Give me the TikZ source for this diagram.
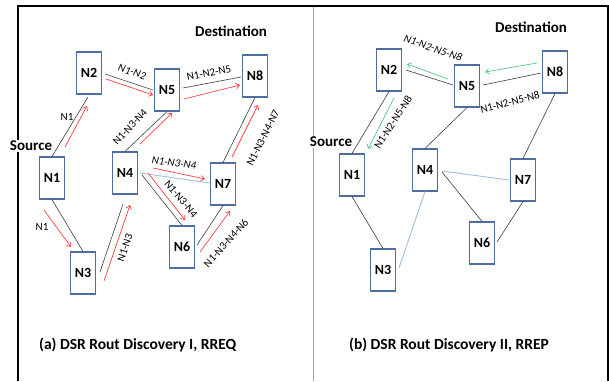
\documentclass[tikz,border=0pt]{standalone}
\usepackage{fontspec}
\setmainfont{Carlito}
\usetikzlibrary{arrows.meta}
\definecolor{boxblue}{RGB}{79,110,160}
\definecolor{reqred}{RGB}{255,60,60}
\definecolor{repgreen}{RGB}{80,200,130}
\definecolor{linkblue}{RGB}{160,190,225}
\definecolor{linkgray}{RGB}{60,60,60}
\definecolor{divgray}{RGB}{165,165,165}
\tikzset{
  nodebox/.style={draw=boxblue, line width=1.6pt, fill=white, minimum width=25pt,
    minimum height=41.5pt, inner sep=0pt, font=\bfseries\fontsize{14}{14}\selectfont},
  link/.style={draw=linkgray, line width=0.6pt},
  weaklink/.style={draw=linkblue, line width=0.9pt},
  tip/.style={-{Straight Barb[length=3.5pt,width=5.5pt]}},
  rreq/.style={draw=reqred, line width=0.7pt, tip},
  rrep/.style={draw=repgreen, line width=0.7pt, tip},
  route/.style={inner sep=0pt, font=\fontsize{11}{11}\selectfont},
  iroute/.style={route, font=\itshape\fontsize{11}{11}\selectfont},
  role/.style={inner sep=1pt, fill=white, font=\bfseries\fontsize{15}{15}\selectfont},
  caption/.style={inner sep=0pt, anchor=west, font=\bfseries\fontsize{15.5}{15.5}\selectfont}
}
\begin{document}
\begin{tikzpicture}[x=1pt,y=-1pt]
\useasboundingbox (0,0) rectangle (609,381);
% frame and divider
\coordinate (tl) at (18,6);
\coordinate (tr) at (608,6);
\coordinate (bl) at (18,381);
\coordinate (br) at (608,381);
\coordinate (dt) at (313.5,7);
\coordinate (db) at (313.5,381);
\draw[divgray, line width=1.8pt] (dt) -- (db);
\draw[black, line width=2pt] (bl) -- (tl) -- (tr) -- (br);

% ---------- (a) route request ----------
\node[nodebox] (a1) at (52,178) {N1};
\node[nodebox] (a2) at (89,73) {N2};
\node[nodebox] (a3) at (83,273) {N3};
\node[nodebox] (a4) at (125,173) {N4};
\node[nodebox] (a5) at (167,90) {N5};
\node[nodebox] (a6) at (182,247) {N6};
\node[nodebox] (a7) at (223,184) {N7};
\node[nodebox] (a8) at (255,76) {N8};

\node[role] (asrc) at (31,146) {Source};
\node[role] (adst) at (231,31) {Destination};

% links
\draw[link] (a1.north) -- ([shift={(-1,24)}]a2.center);
\draw[link] ([shift={(16,1)}]a2.center) -- ([shift={(-14,0)}]a5.center);
\draw[link] ([shift={(16,-2)}]a5.center) -- ([shift={(-14,1)}]a8.center);
\draw[link] (a4.north) -- (a5.south);
\draw[link] (a7.north) -- (a8.south);
\draw[weaklink] ([shift={(15,0)}]a4.center) -- ([shift={(-13,-1)}]a7.center);
\draw[link] ([shift={(17,2)}]a4.center) -- (a6.north);
\draw[link] ([shift={(15,-2)}]a6.center) -- (a7.south);
\draw[link] (a1.south) -- (a3.north);
\draw[link] ([shift={(17,-1)}]a3.center) -- ([shift={(-2,31)}]a4.center);

% request propagation
\draw[rreq] ([shift={(13,-31)}]a1.center) -- ([shift={(-2,33)}]a2.center);
\draw[rreq] ([shift={(17,6)}]a2.center) -- ([shift={(-14,5)}]a5.center);
\draw[rreq] ([shift={(17,9)}]a5.center) -- ([shift={(-15,9)}]a8.center);
\draw[rreq] ([shift={(15,-29)}]a4.center) -- ([shift={(5,23)}]a5.center);
\draw[rreq] ([shift={(9,-27)}]a7.center) -- ([shift={(3,29)}]a8.center);
\draw[rreq] ([shift={(28,-5)}]a4.center) -- ([shift={(-18,-5)}]a7.center);
\draw[rreq] ([shift={(23,0)}]a4.center) -- ([shift={(3,-27)}]a6.center);
\draw[rreq] ([shift={(18,5)}]a6.center) -- ([shift={(7,27)}]a7.center);
\draw[rreq] ([shift={(-8,32)}]a1.center) -- ([shift={(-12,-26)}]a3.center);
\draw[rreq] ([shift={(21,8)}]a3.center) -- ([shift={(5,32)}]a4.center);

% route records
\node[route] (ra1) at (67,117) {N1};
\node[iroute, rotate=-18] (ra2) at (132,72) {N1-N2};
\node[route, rotate=11] (ra3) at (209,73) {N1-N2-N5};
\node[route, rotate=47] (ra4) at (130,127) {N1-N3-N4};
\node[route, rotate=63] (ra5) at (263,138) {N1-N3-N4-N7};
\node[iroute, rotate=-8] (ra6) at (174,163) {N1-N3-N4};
\node[route, rotate=-50] (ra7) at (181,199) {N1-N3-N4};
\node[route, rotate=48] (ra8) at (226,243) {N1-N3-N4-N6};
\node[route] (ra9) at (42,227) {N1};
\node[route, rotate=72] (ra10) at (125,248) {N1-N3};

\node[caption] (capa) at (39,345) {(a) DSR Rout Discovery I, RREQ};

% ---------- (b) route reply ----------
\node[nodebox] (b1) at (352,175) {N1};
\node[nodebox] (b2) at (389,70) {N2};
\node[nodebox] (b3) at (383,270) {N3};
\node[nodebox] (b4) at (425,170) {N4};
\node[nodebox] (b5) at (467,86) {N5};
\node[nodebox] (b6) at (482,243) {N6};
\node[nodebox] (b7) at (523,180) {N7};
\node[nodebox] (b8) at (555,72) {N8};

\node[role] (bsrc) at (331,142) {Source};
\node[role] (bdst) at (531,27) {Destination};

% links
\draw[link] ([shift={(17,0)}]b2.center) -- ([shift={(-14,-1)}]b5.center);
\draw[link] ([shift={(16,-1)}]b5.center) -- ([shift={(-14,1)}]b8.center);
\draw[link] (b2.south) -- (b1.north);
\draw[link] (b5.south) -- (b4.north);
\draw[link] (b8.south) -- (b7.north);
\draw[weaklink] ([shift={(17,1)}]b4.center) -- ([shift={(-14,0)}]b7.center);
\draw[link] ([shift={(17,2)}]b4.center) -- (b6.north);
\draw[link] ([shift={(15,-1)}]b6.center) -- (b7.south);
\draw[link] (b1.south) -- (b3.north);
\draw[weaklink] ([shift={(16,-2)}]b3.center) -- (b4.south);

% reply propagation
\draw[rrep] ([shift={(-18,-9)}]b8.center) -- ([shift={(18,-14)}]b5.center);
\draw[rrep] ([shift={(-19,-7)}]b5.center) -- ([shift={(18,-6)}]b2.center);
\draw[rrep] ([shift={(5,28)}]b2.center) -- ([shift={(16,-26)}]b1.center);

% route records
\node[iroute, rotate=-19] (rb1) at (433,48) {N1-N2-N5-N8};
\node[route, rotate=15] (rb2) at (510,102) {N1-N2-N5-N8};
\node[route, rotate=57] (rb3) at (393,122) {N1-N2-N5-N8};

\node[caption] (capb) at (349,345) {(b) DSR Rout Discovery II, RREP};
\end{tikzpicture}
\end{document}
